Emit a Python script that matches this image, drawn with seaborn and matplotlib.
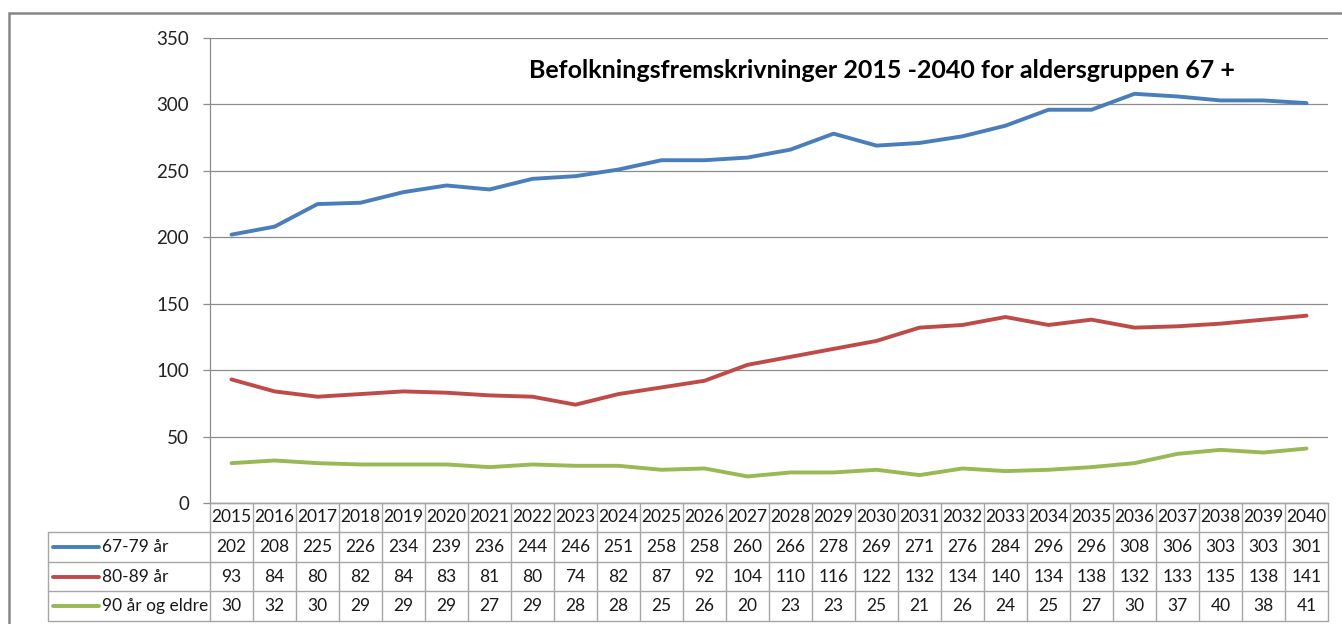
import matplotlib
matplotlib.use("Agg")
import matplotlib.pyplot as plt
from matplotlib.lines import Line2D
from matplotlib.patches import Rectangle
import matplotlib.transforms as mtransforms
import seaborn as sns
import pandas as pd

years = list(range(2015, 2041))
series_names = ["67-79 år", "80-89 år", "90 år og eldre"]
vals_67_79 = [202, 208, 225, 226, 234, 239, 236, 244, 246, 251, 258, 258, 260,
              266, 278, 269, 271, 276, 284, 296, 296, 308, 306, 303, 303, 301]
vals_80_89 = [93, 84, 80, 82, 84, 83, 81, 80, 74, 82, 87, 92, 104,
              110, 116, 122, 132, 134, 140, 134, 138, 132, 133, 135, 138, 141]
vals_90 = [30, 32, 30, 29, 29, 29, 27, 29, 28, 28, 25, 26, 20,
           23, 23, 25, 21, 26, 24, 25, 27, 30, 37, 40, 38, 41]
title = "Befolkningsfremskrivninger 2015 -2040 for aldersgruppen 67 +"
colors = ["#4A7EBB", "#BE4B48", "#98B954"]

series_vals = [vals_67_79, vals_80_89, vals_90]
rows = []
for name, vals in zip(series_names, series_vals):
    for i, (y, v) in enumerate(zip(years, vals)):
        rows.append({"pos": i, "year": y, "serie": name, "verdi": v})
df = pd.DataFrame(rows)

sns.set_theme(style="white")
plt.rcParams["font.family"] = ["Lato", "DejaVu Sans"]

W, H = 1342, 624
fig = plt.figure(figsize=(W / 100, H / 100), dpi=100)

def fy(py):
    return 1 - py / H

def fx(px):
    return px / W

ax_l, ax_r, ax_t, ax_b = 210, 1328, 38, 503
ax = fig.add_axes([fx(ax_l), fy(ax_b), fx(ax_r) - fx(ax_l), fy(ax_t) - fy(ax_b)])

sns.lineplot(data=df, x="pos", y="verdi", hue="serie", palette=colors,
             linewidth=2.8, ax=ax, legend=False, sort=True)

ax.set_xlim(-0.5, len(years) - 0.5)
ax.set_ylim(0, 350)
ax.set_yticks(range(0, 351, 50))
ax.set_xticks([])
ax.set_xlabel("")
ax.set_ylabel("")
ax.grid(axis="y", color="#8C8C8C", linewidth=0.9)
ax.set_axisbelow(True)
for s in ["top", "right"]:
    ax.spines[s].set_visible(False)
for s in ["left", "bottom"]:
    ax.spines[s].set_color("#8C8C8C")
    ax.spines[s].set_linewidth(0.9)
ax.tick_params(axis="y", which="major", left=True, length=5, width=0.9,
               color="#8C8C8C", pad=10, labelsize=13.5, labelcolor="#222222")

# Title
fig.text(fx(882), fy(70), title, ha="center", va="center",
         fontsize=18, fontweight="bold", color="black")

# Data table below the axes
tr = mtransforms.blended_transform_factory(ax.transData, fig.transFigure)
grid_col = "#A6A6A6"
row_edges = [503, 532, 562, 591, 621]
label_left = 48
n = len(years)

for k in range(len(row_edges) - 1):
    top, bot = row_edges[k], row_edges[k + 1]
    for i in range(n + 1):
        fig.add_artist(Line2D([fx(ax_l + (ax_r - ax_l) * i / n)] * 2, [fy(top), fy(bot)],
                              color=grid_col, linewidth=1.0))
    if k >= 1:
        fig.add_artist(Line2D([fx(label_left)] * 2, [fy(top), fy(bot)],
                              color=grid_col, linewidth=1.0))
for k, yy in enumerate(row_edges):
    x0 = label_left if k >= 1 else ax_l
    fig.add_artist(Line2D([fx(x0), fx(ax_r)], [fy(yy), fy(yy)],
                          color=grid_col, linewidth=1.0))

cell_fs = 12.5
for i, y in enumerate(years):
    yc = (row_edges[0] + row_edges[1]) / 2
    ax.text(i, fy(yc), str(y), transform=tr, ha="center", va="center",
            fontsize=cell_fs, color="#1A1A1A", clip_on=False)
for r, (name, vals, c) in enumerate(zip(series_names, series_vals, colors)):
    yc = (row_edges[r + 1] + row_edges[r + 2]) / 2
    fig.add_artist(Line2D([fx(53), fx(99)], [fy(yc), fy(yc)], color=c,
                          linewidth=2.8, solid_capstyle="round"))
    fig.text(fx(102), fy(yc), name, ha="left", va="center",
             fontsize=cell_fs, color="#1A1A1A")
    for i, v in enumerate(vals):
        ax.text(i, fy(yc), str(v), transform=tr, ha="center", va="center",
                fontsize=cell_fs, color="#1A1A1A", clip_on=False)

# Outer chart border
fig.add_artist(Rectangle((fx(9), -0.1), 1.2, fy(13) + 0.1, transform=fig.transFigure,
                         fill=False, edgecolor="#868686", linewidth=1.8))

fig.savefig("out.png", dpi=100)
